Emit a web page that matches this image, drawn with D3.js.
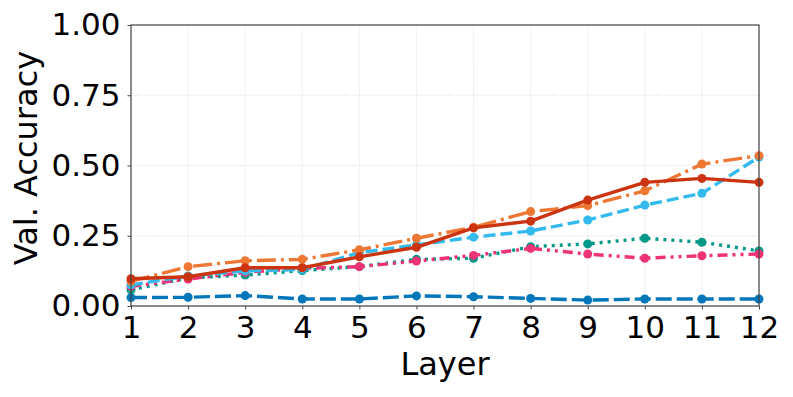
<!DOCTYPE html>
<html><head><meta charset="utf-8">
<script src="https://cdn.jsdelivr.net/npm/d3@7"></script>
<style>body{margin:0;background:#fff}svg{display:block}</style>
</head><body><svg id="c" width="793" height="397"></svg>
<script>
const layers = [1,2,3,4,5,6,7,8,9,10,11,12];
const redSolid    = [0.097,0.104,0.136,0.136,0.175,0.209,0.278,0.302,0.377,0.440,0.454,0.440];
const orangeDD    = [0.088,0.140,0.161,0.166,0.200,0.241,0.280,0.336,0.357,0.410,0.505,0.535];
const cyanDash    = [0.075,0.107,0.125,0.130,0.190,0.217,0.245,0.267,0.306,0.359,0.401,0.530];
const tealDot     = [0.058,0.100,0.110,0.126,0.140,0.166,0.170,0.211,0.221,0.241,0.227,0.196];
const magentaDDD  = [0.070,0.096,0.120,0.134,0.140,0.160,0.180,0.205,0.185,0.170,0.179,0.185];
const blueDash    = [0.030,0.031,0.037,0.025,0.025,0.036,0.033,0.027,0.021,0.025,0.025,0.025];
const yTicks = [0,0.25,0.5,0.75,1.0];

const series = [
  {v: blueDash,   c:"#0077BB", dash:"16,5"},
  {v: tealDot,    c:"#009988", dash:"3,5"},
  {v: magentaDDD, c:"#EE3377", dash:"10,5,3,5,3,5"},
  {v: cyanDash,   c:"#33BBEE", dash:"12,5"},
  {v: orangeDD,   c:"#EE7733", dash:"19,5,3,5"},
  {v: redSolid,   c:"#CC3311", dash:null},
];

const svg = d3.select("#c");
const L=131, R=759, T=25, B=306;
const x = d3.scaleLinear().domain([1,12]).range([L,R]);
const y = d3.scaleLinear().domain([0,1]).range([B,T]);
const font = "DejaVu Sans, sans-serif";

// grid
const g = svg.append("g");
g.selectAll(".gx").data(layers).join("line")
  .attr("x1",d=>x(d)).attr("x2",d=>x(d)).attr("y1",T).attr("y2",B)
  .attr("stroke","#d0d0d0").attr("stroke-width",0.8).attr("stroke-dasharray","1,1.6");
g.selectAll(".gy").data(yTicks).join("line")
  .attr("x1",L).attr("x2",R).attr("y1",d=>y(d)).attr("y2",d=>y(d))
  .attr("stroke","#d0d0d0").attr("stroke-width",0.8).attr("stroke-dasharray","1,1.6");

// lines
const line = d3.line().x((d,i)=>x(layers[i])).y(d=>y(d));
series.forEach(s=>{
  svg.append("path").datum(s.v).attr("d",line).attr("fill","none")
    .attr("stroke",s.c).attr("stroke-width",3.4)
    .attr("stroke-dasharray",s.dash).attr("stroke-linejoin","round");
  svg.selectAll(null).data(s.v).join("circle")
    .attr("cx",(d,i)=>x(layers[i])).attr("cy",d=>y(d)).attr("r",4.5).attr("fill",s.c);
});

// frame
svg.append("rect").attr("x",L).attr("y",T).attr("width",R-L).attr("height",B-T)
  .attr("fill","none").attr("stroke","#444").attr("stroke-width",1.2);

// axes
const xa = svg.append("g").attr("transform",`translate(0,${B})`)
  .call(d3.axisBottom(x).tickValues(layers).tickFormat(d3.format("d")).tickSize(3.5).tickPadding(6.5));
const ya = svg.append("g").attr("transform",`translate(${L},0)`)
  .call(d3.axisLeft(y).tickValues(yTicks).tickFormat(d3.format(".2f")).tickSize(3.5).tickPadding(7));
[xa,ya].forEach(a=>{
  a.select(".domain").remove();
  a.selectAll("line").attr("stroke","#444");
  a.selectAll("text").attr("font-family",font).attr("font-size",31).attr("fill","#000");
});

svg.append("text").attr("x",(L+R)/2).attr("y",375).attr("text-anchor","middle")
  .attr("font-family",font).attr("font-size",32).text("Layer");
svg.append("text").attr("transform",`translate(37,158) rotate(-90)`)
  .attr("text-anchor","middle").attr("font-family",font).attr("font-size",32).text("Val. Accuracy");
</script></body></html>
